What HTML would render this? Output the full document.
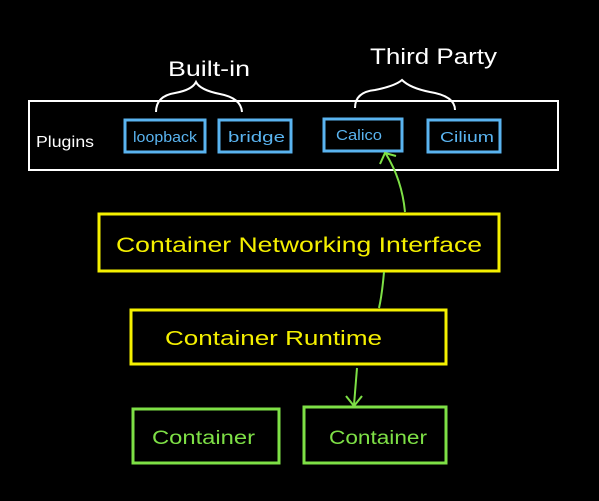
<!DOCTYPE html>
<html><head><meta charset="utf-8"><style>
html,body{margin:0;padding:0;background:#000;width:599px;height:501px;overflow:hidden}
</style></head><body>
<svg width="599" height="501" viewBox="0 0 599 501" xmlns="http://www.w3.org/2000/svg" font-family="Liberation Sans, sans-serif">
<rect width="599" height="501" fill="#000"/>
<rect x="29" y="101" width="529" height="69" fill="none" stroke="#fff" stroke-width="2"/>
<text x="36" y="147" fill="#fff" font-size="16" textLength="58" lengthAdjust="spacingAndGlyphs">Plugins</text>
<g fill="none" stroke="#5ab4f0" stroke-width="3">
<rect x="125" y="120" width="80" height="32"/>
<rect x="219" y="120" width="72" height="32"/>
<rect x="324" y="119" width="78" height="32"/>
<rect x="428" y="120" width="72" height="32"/>
</g>
<g fill="#5ab4f0" font-size="15" lengthAdjust="spacingAndGlyphs">
<text x="133" y="142" textLength="64" lengthAdjust="spacingAndGlyphs">loopback</text>
<text x="228" y="142" textLength="57" lengthAdjust="spacingAndGlyphs">bridge</text>
<text x="336" y="140" textLength="46" lengthAdjust="spacingAndGlyphs">Calico</text>
<text x="440" y="142" textLength="54" lengthAdjust="spacingAndGlyphs">Cilium</text>
</g>
<g fill="none" stroke="#fff" stroke-width="2">
<path d="M156 112 Q156 96 175 93 Q192 90 196 82 Q200 90 220 94 Q241 98 242 112"/>
<path d="M355 108 Q355 92 375 90 Q395 86 402 80 Q410 88 430 92 Q455 96 455 110"/>
</g>
<text x="168" y="76" fill="#fff" font-size="21" textLength="82" lengthAdjust="spacingAndGlyphs">Built-in</text>
<text x="370" y="64" fill="#fff" font-size="22" textLength="127" lengthAdjust="spacingAndGlyphs">Third Party</text>
<rect x="99" y="214" width="400" height="57" fill="none" stroke="#f5f000" stroke-width="3"/>
<text x="116" y="252" fill="#f5f000" font-size="21" textLength="366" lengthAdjust="spacingAndGlyphs">Container Networking Interface</text>
<rect x="131" y="310" width="315" height="54" fill="none" stroke="#f5f000" stroke-width="3"/>
<text x="165" y="345" fill="#f5f000" font-size="20" textLength="217" lengthAdjust="spacingAndGlyphs">Container Runtime</text>
<g fill="none" stroke="#7ee046" stroke-width="3">
<rect x="133" y="409" width="146" height="54"/>
<rect x="304" y="407" width="142" height="56"/>
</g>
<g fill="#7ee046" font-size="19">
<text x="152" y="444" textLength="103" lengthAdjust="spacingAndGlyphs">Container</text>
<text x="329" y="444" textLength="98" lengthAdjust="spacingAndGlyphs">Container</text>
</g>
<g fill="none" stroke="#7ee046" stroke-width="2">
<path d="M405 212 Q402 180 386 154"/>
<path d="M380 164 L385 153 L396 156"/>
<path d="M384 272 Q382 295 379 308"/>
<path d="M357 368 L354 405"/>
<path d="M346 396 L354 406 L362 396"/>
</g>
</svg>
</body></html>
